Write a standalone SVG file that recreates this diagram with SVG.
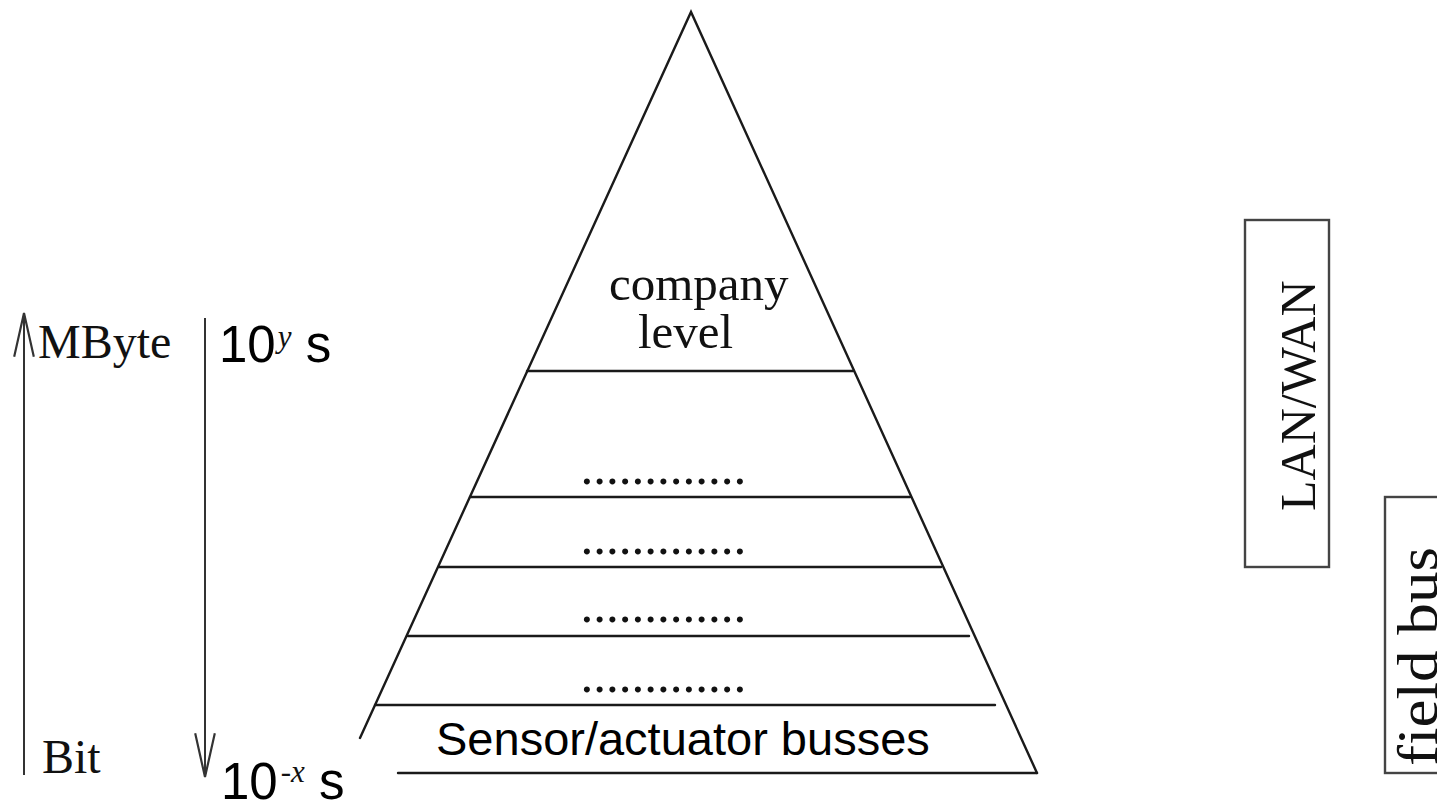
<svg xmlns="http://www.w3.org/2000/svg" width="1437" height="806" viewBox="0 0 1437 806">
  <defs>
    <marker id="vhead" markerUnits="userSpaceOnUse" markerWidth="50" markerHeight="24" viewBox="-42 -11 44 22" refX="0" refY="0" orient="auto">
      <path d="M -40 -9 L 0 0 L -40 9" fill="none" stroke="#333" stroke-width="2"/>
    </marker>
  </defs>
  <style>
    .ln { stroke: #1a1a1a; stroke-width: 2.4; fill: none; stroke-linecap: round; }
    .box { stroke: #444; stroke-width: 2.4; fill: #fff; }
    .serif { font-family: "Liberation Serif", "Times New Roman", serif; fill: #111; }
    .sans { font-family: "Liberation Sans", Arial, sans-serif; fill: #000; }
    .dots { font-family: "Liberation Serif", "Times New Roman", serif; font-size: 51px; fill: #111; }
    .arrow { stroke: #333; stroke-width: 2; fill: none; }
  </style>
  <rect width="1437" height="806" fill="#fff"/>

  <g id="pyramid">
    <polyline class="ln" points="360,738 691,12 1037,773"/>
    <line class="ln" x1="398" y1="773" x2="1037" y2="773"/>
    <line class="ln" x1="527" y1="371" x2="853" y2="371"/>
    <line class="ln" x1="470" y1="497" x2="910" y2="497"/>
    <line class="ln" x1="439" y1="567" x2="941" y2="567"/>
    <line class="ln" x1="408" y1="636" x2="969" y2="636"/>
    <line class="ln" x1="375" y1="705" x2="995" y2="705"/>
    <text class="serif" x="609" y="300" font-size="49">company</text>
    <text class="serif" x="638" y="348" font-size="49">level</text>
    <text class="dots" x="580.5" y="484">.............</text>
    <text class="dots" x="580.5" y="554">.............</text>
    <text class="dots" x="580.5" y="622">.............</text>
    <text class="dots" x="580.5" y="692">.............</text>
    <text class="sans" x="436" y="755" font-size="47">Sensor/actuator busses</text>
  </g>

  <g id="axis-data">
    <text class="serif" x="38" y="358" font-size="48">MByte</text>
    <text class="serif" x="42" y="773" font-size="48">Bit</text>
  </g>

  <g id="axis-time">
    <text class="sans" x="219" y="362" font-size="51">10<tspan class="serif" font-style="italic" font-size="31" dx="2" dy="-15">y</tspan><tspan dx="0" dy="15"> s</tspan></text>
    <text class="sans" x="221" y="799" font-size="51">10<tspan class="serif" font-style="italic" font-size="31" dx="3" dy="-17">-x</tspan><tspan dy="17"> s</tspan></text>
  </g>

  <g id="lan-wan">
    <rect class="box" x="1245" y="220" width="84" height="347"/>
    <text class="serif" font-size="50" transform="translate(1315,511) rotate(-90)">LAN/WAN</text>
  </g>

  <g id="field-bus">
    <rect class="box" x="1385" y="497" width="80" height="276"/>
    <text class="serif" font-size="56" textLength="219" lengthAdjust="spacingAndGlyphs" transform="translate(1437,766) rotate(-90)">field bus</text>
  </g>

  <g id="connectors">
    <line class="arrow" x1="24" y1="775" x2="24" y2="313" marker-end="url(#vhead)"/>
    <line class="arrow" x1="205" y1="318" x2="205" y2="777" marker-end="url(#vhead)"/>
  </g>
</svg>
